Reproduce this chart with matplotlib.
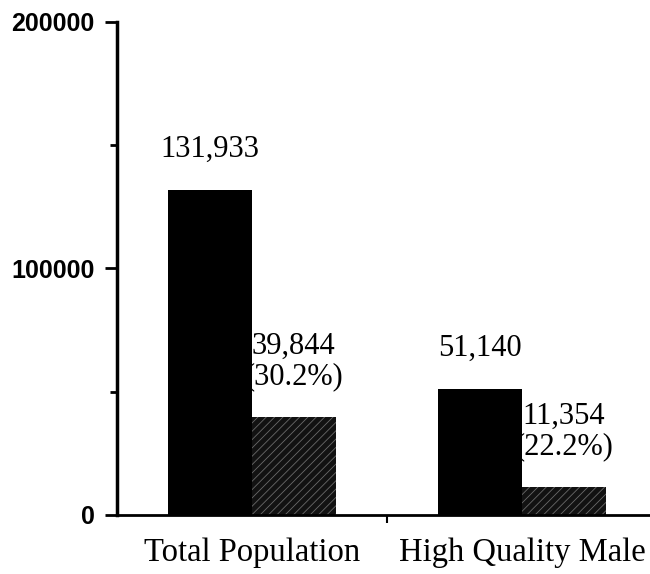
import matplotlib.pyplot as plt
import numpy as np

groups = ["Total Population", "High Quality Male"]
totals = [131933, 51140]
subset = [39844, 11354]
pcts = ["30.2%", "22.2%"]

plt.rcParams['hatch.linewidth'] = 0.6

fig = plt.figure(figsize=(6.5, 5.74), dpi=100)
ax = fig.add_axes([0.18, 0.103, 0.82, 0.859])

x = np.arange(len(groups))
w = 0.31
ax.bar(x - w / 2, totals, w, color="black", edgecolor="black", linewidth=0)
ax.bar(x + w / 2, subset, w, color="#121212", edgecolor="#6a6a6a",
       hatch="////", linewidth=0)

serif = "Liberation Serif"
for i in range(len(groups)):
    ax.text(x[i] - w / 2, totals[i] + 10500, f"{totals[i]:,}", ha="center",
            va="bottom", fontsize=22, family=serif)
    ax.text(x[i] + w / 2, subset[i] + 10500, f"{subset[i]:,}\n({pcts[i]})",
            ha="center", va="bottom", fontsize=22, family=serif,
            linespacing=1.05)

ax.set_xlim(-0.5, 1.474)
ax.set_ylim(0, 200000)
ax.set_yticks([0, 100000, 200000])
ax.set_yticklabels(["0", "100000", "200000"], family="Liberation Sans",
                   fontweight="bold", fontsize=18)
ax.set_yticks([50000, 150000], minor=True)
ax.tick_params(axis="y", which="major", length=9, width=2, direction="out",
               pad=7)
ax.tick_params(axis="y", which="minor", length=5, width=2, direction="out")

ax.set_xticks([0.5])
ax.set_xticklabels([""])
ax.tick_params(axis="x", length=6, width=1.5, direction="out")
for i, g in enumerate(groups):
    ax.text(x[i], -15500, g, ha="center", va="center", fontsize=23.5,
            family=serif)

for s in ["top", "right"]:
    ax.spines[s].set_visible(False)
ax.spines["left"].set_linewidth(2.5)
ax.spines["bottom"].set_linewidth(2)

fig.savefig("out.png", dpi=100)
